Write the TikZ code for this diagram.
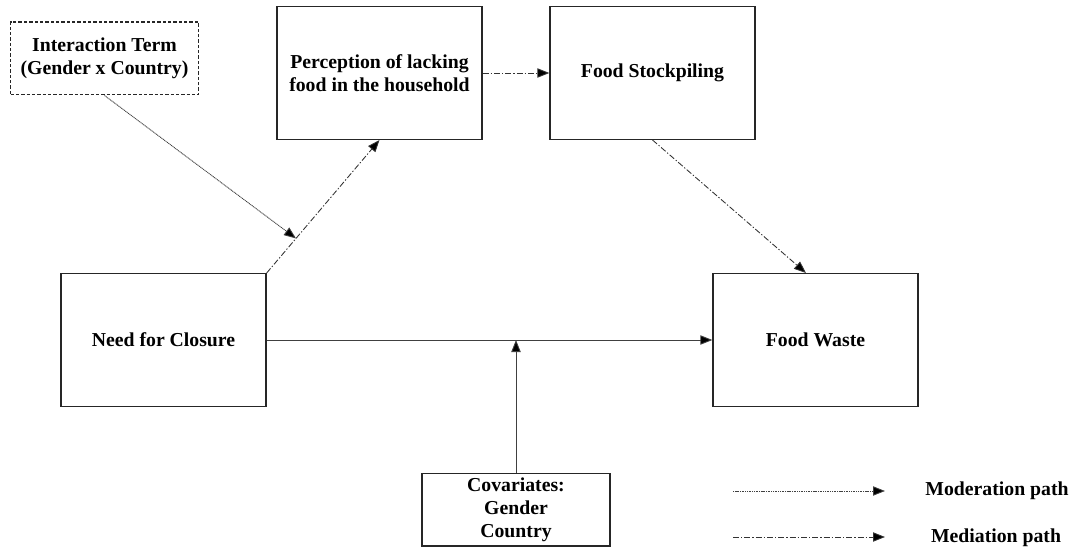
\documentclass[tikz,border=0pt]{standalone}
\usepackage{fontspec}
\setmainfont{Liberation Serif}
\usetikzlibrary{arrows.meta,calc}
\tikzset{
  box/.style={draw=black!85, line width=1pt, align=center, font=\fontsize{14.8}{17.3}\selectfont\bfseries, inner sep=0pt},
  bigbox/.style={box, minimum width=153.75pt, minimum height=99.5pt},
  smallbox/.style={box, minimum width=141pt, minimum height=54.5pt},
  conn/.style={draw=black!75, line width=0.65pt, -{Triangle[length=9pt,width=7pt,fill=black]}},
  medpath/.style={conn, draw=black!80, dash pattern=on 4.5pt off 1.5pt on 1pt off 1.5pt},
  modpath/.style={conn, dash pattern=on 0.8pt off 0.5pt},
  legtext/.style={font=\fontsize{14.8}{17.3}\selectfont\bfseries, inner sep=0pt}
}
\begin{document}
\begin{tikzpicture}[x=0.75pt,y=-0.75pt]
\useasboundingbox (0,0) rectangle (1071,549);
\node[smallbox, dashed, dash pattern=on 2.5pt off 1.5pt] (inter) at (104.5,58.5) {Interaction Term\\(Gender x Country)};
\node[bigbox] (perc) at (379.5,73) {Perception of lacking\\food in the household};
\node[bigbox] (stock) at (652.5,73) {Food Stockpiling};
\node[bigbox] (need) at (163.5,340) {Need for Closure};
\node[bigbox] (waste) at (815.5,340) {Food Waste};
\node[smallbox] (cov) at (516,509.5) {\raisebox{-2pt}{\parbox{140pt}{\centering Covariates:\\Gender\\Country}}};

\draw[medpath] (need.north east) -- (perc.south);
\coordinate (mod) at ($(need.north east)!0.26!(perc.south)$);
\draw[modpath] (inter.south) -- (mod);
\draw[medpath] (perc.east) -- (stock.west);
\draw[medpath] (stock.south) -- ($(waste.north)+(-9.5,0)$);
\draw[conn] (need.east) -- (waste.west);
\coordinate (covtip) at (cov.north |- need.east);
\draw[conn] (cov.north) -- (covtip);

\coordinate (l1s) at (733,491);
\coordinate (l1e) at (885,491);
\coordinate (l2s) at (733,537);
\coordinate (l2e) at (885,537);
\draw[modpath] (l1s) -- (l1e);
\draw[medpath] (l2s) -- (l2e);
\node[legtext] (modlab) at (997,491) {Moderation path};
\node[legtext] (medlab) at (996,538) {Mediation path};
\end{tikzpicture}
\end{document}
